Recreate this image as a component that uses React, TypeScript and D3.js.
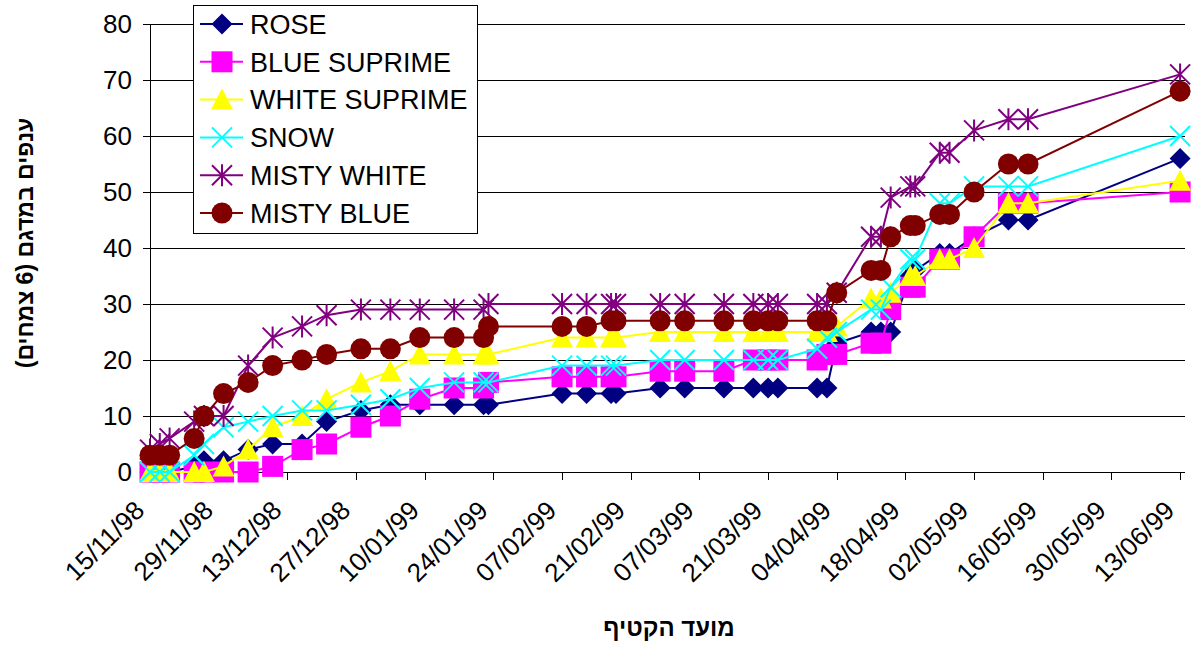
import { useEffect, useRef } from 'react';
import * as d3 from 'd3';

// sampling dates (harvest dates)
const sampleDates = [
  '1998-11-15', '1998-11-17', '1998-11-19', '1998-11-24', '1998-11-26', '1998-11-30',
  '1998-12-05', '1998-12-10', '1998-12-16', '1998-12-21', '1998-12-28', '1999-01-03',
  '1999-01-09', '1999-01-16', '1999-01-22', '1999-01-23', '1999-02-07', '1999-02-12',
  '1999-02-17', '1999-02-18', '1999-02-27', '1999-03-04', '1999-03-12', '1999-03-18',
  '1999-03-21', '1999-03-23', '1999-03-31', '1999-04-02', '1999-04-04', '1999-04-11',
  '1999-04-13', '1999-04-15', '1999-04-19', '1999-04-20', '1999-04-25', '1999-04-27',
  '1999-05-02', '1999-05-09', '1999-05-13', '1999-06-13',
];

const rose = [
  0, 0, 0, 1, 2, 2, 4, 5, 5, 9, 11, 12, 12, 12, 12, 12, 14, 14, 14, 14,
  15, 15, 15, 15, 15, 15, 15, 15, 23, 25, 25, 25, 35, 36, 39, 39, 42, 45, 45, 56,
];
const blueSuprime = [
  0, 0, 0, 0, 0, 0, 0, 1, 4, 5, 8, 10, 13, 15, 15, 16, 17, 17, 17, 17,
  18, 18, 18, 20, 20, 20, 20, 21, 21, 23, 23, 29, 33, 33, 38, 38, 42, 48, 48, 50,
];
const whiteSuprime = [
  0, 0, 0, 0, 0, 1, 4, 8, 10, 13, 16, 18, 21, 21, 21, 21, 24, 24, 24, 24,
  25, 25, 25, 25, 25, 25, 25, 25, 26, 31, 31, 32, 35, 35, 38, 38, 40, 48, 48, 52,
];
const snow = [
  0, 0, 0, 3, 5, 8, 9, 10, 11, 11, 12, 13, 15, 16, 16, 16, 19, 19, 19, 19,
  20, 20, 20, 20, 20, 20, 22, 24, 25, 29, 29, 33, 38, 38, 48, 48, 51, 51, 51, 60,
];
const mistyWhite = [
  4, 5, 6, 9, 10, 10, 19, 24, 26, 28, 29, 29, 29, 29, 29, 30, 30, 30, 30, 30,
  30, 30, 30, 30, 30, 30, 30, 30, 32, 42, 42, 49, 51, 51, 57, 57, 61, 63, 63, 71,
];
const mistyBlue = [
  3, 3, 3, 6, 10, 14, 16, 19, 20, 21, 22, 22, 24, 24, 24, 26, 26, 26, 27, 27,
  27, 27, 27, 27, 27, 27, 27, 27, 32, 36, 36, 42, 44, 44, 46, 46, 50, 55, 55, 68,
];

const seriesNames = ['ROSE', 'BLUE SUPRIME', 'WHITE SUPRIME', 'SNOW', 'MISTY WHITE', 'MISTY BLUE'];
const seriesColors = ['#000080', '#FF00FF', '#FFFF00', '#00FFFF', '#800080', '#800000'];
const seriesMarkers = ['diamond', 'square', 'triangle', 'x', 'star', 'circle'];

const xTickLabels = [
  '15/11/98', '29/11/98', '13/12/98', '27/12/98', '10/01/99', '24/01/99', '07/02/99', '21/02/99',
  '07/03/99', '21/03/99', '04/04/99', '18/04/99', '02/05/99', '16/05/99', '30/05/99', '13/06/99',
];
const yTicks = [0, 10, 20, 30, 40, 50, 60, 70, 80];

const yTitle = 'ענפים במדגם (6 צמחים)';
const xTitle = 'מועד הקטיף';

const FONT = "'Liberation Sans', Arial, sans-serif";

const drawMarker = (
  g: d3.Selection<SVGGElement, unknown, null, undefined>,
  kind: string,
  cx: number,
  cy: number,
  color: string,
) => {
  const r = 10.5;
  if (kind === 'circle') {
    g.append('circle').attr('cx', cx).attr('cy', cy).attr('r', r).attr('fill', color);
  } else if (kind === 'square') {
    g.append('rect').attr('x', cx - r).attr('y', cy - r).attr('width', r * 2).attr('height', r * 2).attr('fill', color);
  } else if (kind === 'diamond') {
    g.append('path')
      .attr('d', `M${cx},${cy - r}L${cx + r},${cy}L${cx},${cy + r}L${cx - r},${cy}Z`)
      .attr('fill', color);
  } else if (kind === 'triangle') {
    g.append('path')
      .attr('d', `M${cx},${cy - 11}L${cx + 11},${cy + 10}L${cx - 11},${cy + 10}Z`)
      .attr('fill', color);
  } else {
    const s = 10;
    let d = `M${cx - s},${cy - s}L${cx + s},${cy + s}M${cx - s},${cy + s}L${cx + s},${cy - s}`;
    if (kind === 'star') d += `M${cx},${cy - s - 1}L${cx},${cy + s + 1}`;
    g.append('path').attr('d', d).attr('stroke', color).attr('stroke-width', 2).attr('fill', 'none');
  }
};

const App = () => {
  const ref = useRef<SVGSVGElement | null>(null);

  useEffect(() => {
    if (!ref.current) return;
    const svg = d3.select(ref.current);
    svg.selectAll('*').remove();

    const parseDate = d3.utcParse('%Y-%m-%d');
    const parseTick = d3.utcParse('%d/%m/%y');
    const dates = sampleDates.map((d) => parseDate(d) as Date);
    const tickDates = xTickLabels.map((d) => parseTick(d) as Date);

    const left = 150;
    const right = 1185;
    const top = 24;
    const bottom = 472;

    const x = d3
      .scaleUtc()
      .domain([tickDates[0], d3.utcDay.offset(tickDates[tickDates.length - 1], 1)])
      .range([left, right]);
    const y = d3.scaleLinear().domain([0, 80]).range([bottom, top]);

    svg.attr('width', 1192).attr('height', 646).style('font-family', FONT);

    // gridlines
    svg
      .append('g')
      .selectAll('line')
      .data(yTicks.filter((t) => t > 0))
      .enter()
      .append('line')
      .attr('x1', left)
      .attr('x2', right)
      .attr('y1', (t) => Math.round(y(t)) + 0.5)
      .attr('y2', (t) => Math.round(y(t)) + 0.5)
      .attr('stroke', '#000')
      .attr('stroke-width', 1);

    // y axis
    const yAxis = svg.append('g');
    yAxis
      .append('line')
      .attr('x1', left + 0.5)
      .attr('x2', left + 0.5)
      .attr('y1', top)
      .attr('y2', bottom)
      .attr('stroke', '#000');
    yAxis
      .selectAll('line.tick')
      .data(yTicks)
      .enter()
      .append('line')
      .attr('class', 'tick')
      .attr('x1', left - 7)
      .attr('x2', left)
      .attr('y1', (t) => Math.round(y(t)) + 0.5)
      .attr('y2', (t) => Math.round(y(t)) + 0.5)
      .attr('stroke', '#000');
    yAxis
      .selectAll('text')
      .data(yTicks)
      .enter()
      .append('text')
      .attr('x', 132)
      .attr('y', (t) => y(t))
      .attr('dy', '0.36em')
      .attr('text-anchor', 'end')
      .attr('font-size', 26)
      .text((t) => t);

    // x axis
    const xAxis = svg.append('g');
    xAxis
      .append('line')
      .attr('x1', left)
      .attr('x2', right)
      .attr('y1', bottom + 0.5)
      .attr('y2', bottom + 0.5)
      .attr('stroke', '#000');
    xAxis
      .selectAll('line.tick')
      .data(tickDates)
      .enter()
      .append('line')
      .attr('class', 'tick')
      .attr('x1', (d) => Math.round(x(d)) + 0.5)
      .attr('x2', (d) => Math.round(x(d)) + 0.5)
      .attr('y1', bottom)
      .attr('y2', bottom + 8)
      .attr('stroke', '#000');
    xAxis
      .selectAll('text')
      .data(tickDates)
      .enter()
      .append('text')
      .attr('transform', (d) => `translate(${x(d) - 4},${512}) rotate(-45)`)
      .attr('text-anchor', 'end')
      .attr('font-size', 26)
      .text((_, i) => xTickLabels[i]);

    // series
    const seriesValues = [rose, blueSuprime, whiteSuprime, snow, mistyWhite, mistyBlue];
    seriesValues.forEach((values, si) => {
      const pts = values.map((v, i) => [x(dates[i]), y(v)] as [number, number]);
      const g = svg.append('g');
      g.append('path')
        .attr('d', d3.line()(pts))
        .attr('fill', 'none')
        .attr('stroke', seriesColors[si])
        .attr('stroke-width', 2);
      pts.forEach(([px, py]) => drawMarker(g, seriesMarkers[si], px, py, seriesColors[si]));
    });

    // legend
    const legend = svg.append('g');
    legend
      .append('rect')
      .attr('x', 193.5)
      .attr('y', 5.5)
      .attr('width', 284)
      .attr('height', 228)
      .attr('fill', '#fff')
      .attr('stroke', '#000');
    seriesNames.forEach((name, i) => {
      const ly = 24 + i * 37.8;
      legend
        .append('line')
        .attr('x1', 200)
        .attr('x2', 243)
        .attr('y1', ly)
        .attr('y2', ly)
        .attr('stroke', seriesColors[i])
        .attr('stroke-width', 2);
      drawMarker(legend, seriesMarkers[i], 222, ly, seriesColors[i]);
      legend
        .append('text')
        .attr('x', 250)
        .attr('y', ly)
        .attr('dy', '0.36em')
        .attr('font-size', 27)
        .text(name);
    });

    // titles
    svg
      .append('text')
      .attr('transform', `translate(33,243) rotate(-90)`)
      .attr('text-anchor', 'middle')
      .attr('font-size', 23)
      .attr('font-weight', 'bold')
      .text(yTitle);
    svg
      .append('text')
      .attr('x', 669)
      .attr('y', 636)
      .attr('text-anchor', 'middle')
      .attr('font-size', 24)
      .attr('font-weight', 'bold')
      .text(xTitle);
  }, []);

  return (
    <div style={{ position: 'absolute', left: 0, top: 0 }}>
      <svg ref={ref} role="img" aria-label="Harvest chart" />
    </div>
  );
};

export default App;
